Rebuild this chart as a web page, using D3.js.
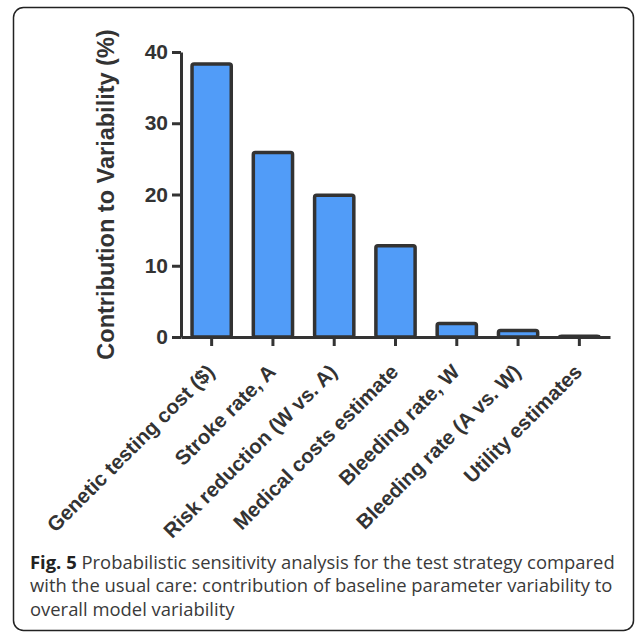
<!DOCTYPE html>
<html>
<head>
<meta charset="utf-8">
<script src="https://cdn.jsdelivr.net/npm/d3@7"></script>
<style>
  body { margin: 0; background: #fff; }
  svg { display: block; }
</style>
</head>
<body>
<svg id="chart" width="637" height="636"></svg>
<script>
// data
const categories = [
  "Genetic testing cost ($)",
  "Stroke rate, A",
  "Risk reduction (W vs. A)",
  "Medical costs estimate",
  "Bleeding rate, W",
  "Bleeding rate (A vs. W)",
  "Utility estimates"
];
const contribution = [38.3, 25.9, 19.9, 12.8, 1.9, 0.9, 0.1];
const yTicks = [0, 10, 20, 30, 40];
const captionLines = [
  ["Fig. 5", " Probabilistic sensitivity analysis for the test strategy compared"],
  ["", "with the usual care: contribution of baseline parameter variability to"],
  ["", "overall model variability"]
];

const svg = d3.select("#chart");
const ink = "#333";

// outer frame
svg.append("rect")
  .attr("x", 13.5).attr("y", 7.5)
  .attr("width", 620).attr("height", 623)
  .attr("rx", 10)
  .attr("fill", "#fff")
  .attr("stroke", "#222")
  .attr("stroke-width", 1.5);

const x = d3.scaleBand()
  .domain(categories)
  .range([181, 610])
  .paddingInner(0.36)
  .paddingOuter(0.18);

const y = d3.scaleLinear()
  .domain([0, 40])
  .range([337, 52]);

const font = "'Liberation Sans', Arial, sans-serif";

// bars
svg.selectAll(".bar")
  .data(contribution)
  .enter()
  .append("rect")
  .attr("class", "bar")
  .attr("x", (d, i) => x(categories[i]))
  .attr("y", d => y(d))
  .attr("width", x.bandwidth())
  .attr("height", d => y(0) - y(d))
  .attr("rx", 2)
  .attr("fill", "#519cf8")
  .attr("stroke", ink)
  .attr("stroke-width", 3.5);

// y axis
const yAxis = svg.append("g")
  .attr("transform", "translate(181,0)")
  .call(d3.axisLeft(y).tickValues(yTicks).tickSize(9).tickSizeOuter(0).tickPadding(4));
yAxis.select(".domain").attr("stroke", ink).attr("stroke-width", 3);
yAxis.selectAll(".tick line").attr("stroke", ink).attr("stroke-width", 3);
yAxis.selectAll(".tick text")
  .attr("fill", ink)
  .style("font-family", font)
  .style("font-weight", "bold")
  .style("font-size", "21px");

// x axis
const xAxis = svg.append("g")
  .attr("transform", "translate(0,337)")
  .call(d3.axisBottom(x).tickSize(9).tickSizeOuter(0));
xAxis.select(".domain").attr("stroke", ink).attr("stroke-width", 3);
xAxis.selectAll(".tick line").attr("stroke", ink).attr("stroke-width", 3);
xAxis.selectAll(".tick text")
  .attr("fill", ink)
  .attr("text-anchor", "end")
  .attr("x", 0).attr("y", 0).attr("dy", "0.35em")
  .attr("transform", "translate(-1,31) rotate(-45)")
  .style("font-family", font)
  .style("font-weight", "bold")
  .style("font-size", "20.5px");

// y axis title
svg.append("text")
  .attr("transform", `translate(114,${(y(0) + y(40)) / 2}) rotate(-90)`)
  .attr("text-anchor", "middle")
  .attr("fill", ink)
  .style("font-family", font)
  .style("font-weight", "bold")
  .style("font-size", "23.5px")
  .text("Contribution to Variability (%)");

// caption
const cap = svg.append("g").attr("class", "caption");
captionLines.forEach((line, i) => {
  const t = cap.append("text")
    .attr("x", 30)
    .attr("y", 569 + i * 23.5)
    .attr("fill", "#3a3a3a")
    .style("font-family", "'Open Sans', sans-serif")
    .style("font-size", "18px");
  if (line[0]) t.append("tspan").style("font-weight", "bold").attr("fill", "#222").text(line[0]);
  t.append("tspan").text(line[1]);
});
// squeeze the caption to the width used in the figure
const first = cap.select("text").node().getComputedTextLength();
cap.attr("transform", `translate(30,0) scale(${585 / first},1) translate(-30,0)`);
</script>
</body>
</html>
